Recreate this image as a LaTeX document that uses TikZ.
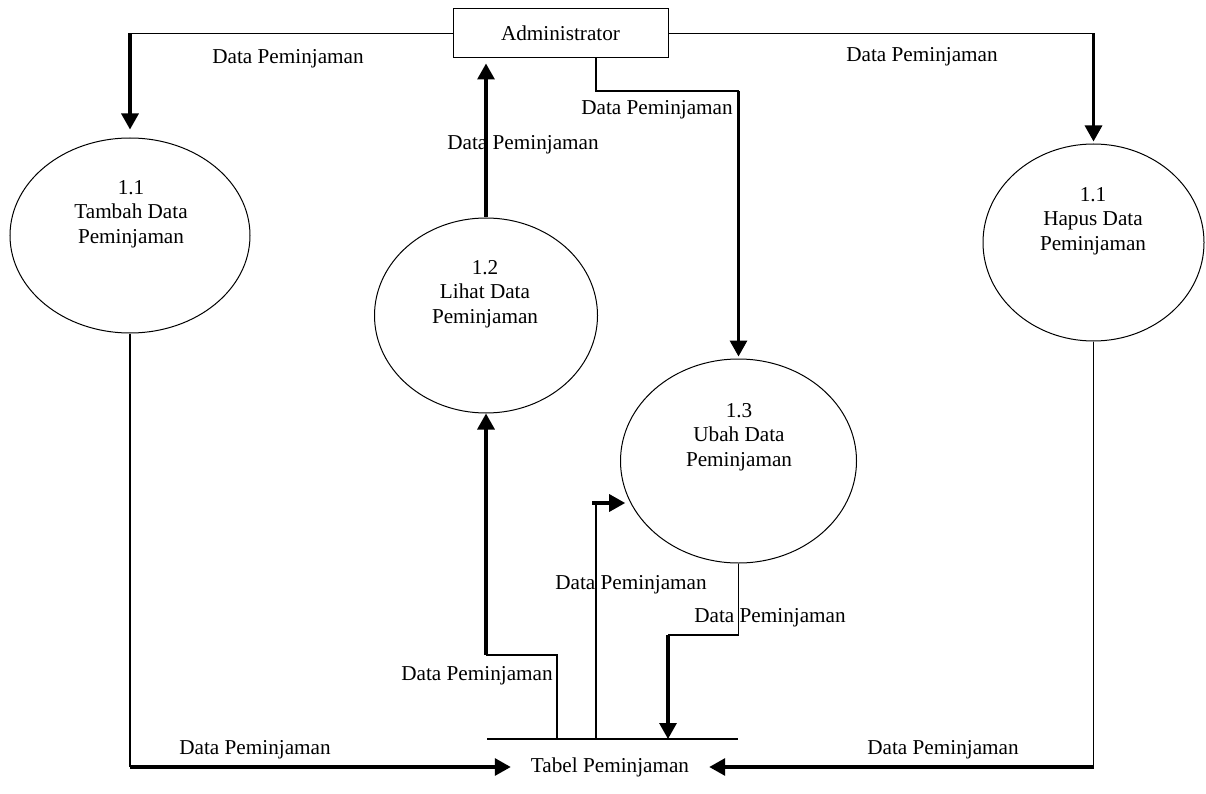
\documentclass[tikz,border=0pt]{standalone}
\usepackage{fontspec}
\setmainfont{Liberation Serif}
\usetikzlibrary{arrows.meta,shapes.geometric}
\tikzset{
  txt/.style={font=\fontsize{21.2}{24.5}\selectfont},
  proc/.style={draw, ellipse, line width=1pt, inner sep=0pt},
  ptext/.style={txt, align=center, inner sep=0pt},
  lbl/.style={txt, anchor=base, inner sep=0pt},
  flow/.style={line width=1.1pt},
  bold/.style={line width=3.2pt, -{Triangle[length=16pt,width=17pt]}},
}
\begin{document}
\begin{tikzpicture}[x=1pt,y=-1pt]
\useasboundingbox (0,0) rectangle (1206,794);
% entities and processes
\node[txt, draw, line width=1pt, minimum width=215pt, minimum height=49pt, inner sep=0pt] (admin) at (560.5,33.5) {Administrator};
\node[proc, minimum width=240pt, minimum height=195pt] (tambah) at (130,235.5) {};
\node[proc, minimum width=223pt, minimum height=195pt] (lihat) at (486,315.5) {};
\node[proc, minimum width=236pt, minimum height=204pt] (ubah) at (738.5,461) {};
\node[proc, minimum width=221pt, minimum height=197pt] (hapus) at (1093.5,242.5) {};
\node[ptext] (tambahT) at (131,214) {1.1\\Tambah Data\\Peminjaman};
\node[ptext] (lihatT) at (485,294) {1.2\\Lihat Data\\Peminjaman};
\node[ptext] (ubahT) at (739,437) {1.3\\Ubah Data\\Peminjaman};
\node[ptext] (hapusT) at (1093,221) {1.1\\Hapus Data\\Peminjaman};
% data store
\coordinate (tl) at (487,739);
\coordinate (tr) at (738,739);
\draw[flow] (tl) -- (tr);
\node[txt, inner xsep=20pt, inner ysep=0pt] (tabel) at (610,767) {Tabel Peminjaman};
% helper coordinates
\coordinate (y91) at (0,91);
\coordinate (y655) at (0,655);
\coordinate (y635) at (0,635);
% Admin -> Tambah
\draw[flow] (admin.west) -- (tambah.north |- admin.west) coordinate (a1);
\draw[bold, shorten >=8pt] (a1) -- (tambah.north);
% Admin -> Hapus
\draw[flow] (admin.east) -- (hapus.north |- admin.east) coordinate (a2);
\draw[bold, shorten >=2pt] (a2) -- (hapus.north);
% Lihat -> Admin
\draw[bold, shorten >=5pt] (lihat.north) -- (lihat.north |- admin.south);
% Admin -> Ubah
\draw[flow] ([xshift=35.5pt]admin.south) |- (ubah.north |- y91) coordinate (a3);
\draw[bold, shorten >=2pt] (a3) -- (ubah.north);
% Tambah -> Tabel
\draw[flow] (tambah.south) -- (tambah.south |- tabel.west) coordinate (a4);
\draw[bold] (a4) -- (tabel.west);
% Hapus -> Tabel
\draw[flow] (hapus.south) -- (hapus.south |- tabel.east) coordinate (a5);
\draw[bold] (a5) -- (tabel.east);
% Tabel -> Lihat
\coordinate (t1) at (557,739);
\draw[flow] (t1) -- (t1 |- y655) -- (lihat.south |- y655) coordinate (a6);
\draw[bold] (a6) -- (lihat.south);
% Tabel -> Ubah
\coordinate (t2) at (596,739);
\draw[flow] (t2) -- (596,503) coordinate (a7);
\draw[bold, shorten >=5pt] ([xshift=-4pt]a7) -- (a7 -| ubah.201.3);
% Ubah -> Tabel
\draw[flow] (ubah.south) -- (ubah.south |- y635) -- (668,635) coordinate (a8);
\draw[bold] (a8) -- (a8 |- tl);
% labels
\node[lbl] (l1) at (288,64) {Data Peminjaman};
\node[lbl] (l2) at (922,62) {Data Peminjaman};
\node[lbl] (l3) at (523,150) {Data Peminjaman};
\node[lbl] (l4) at (657,115) {Data Peminjaman};
\node[lbl] (l5) at (631,589) {Data Peminjaman};
\node[lbl] (l6) at (477,680) {Data Peminjaman};
\node[lbl] (l7) at (770,622) {Data Peminjaman};
\node[lbl] (l8) at (255,754) {Data Peminjaman};
\node[lbl] (l9) at (943,754) {Data Peminjaman};
\end{tikzpicture}
\end{document}
